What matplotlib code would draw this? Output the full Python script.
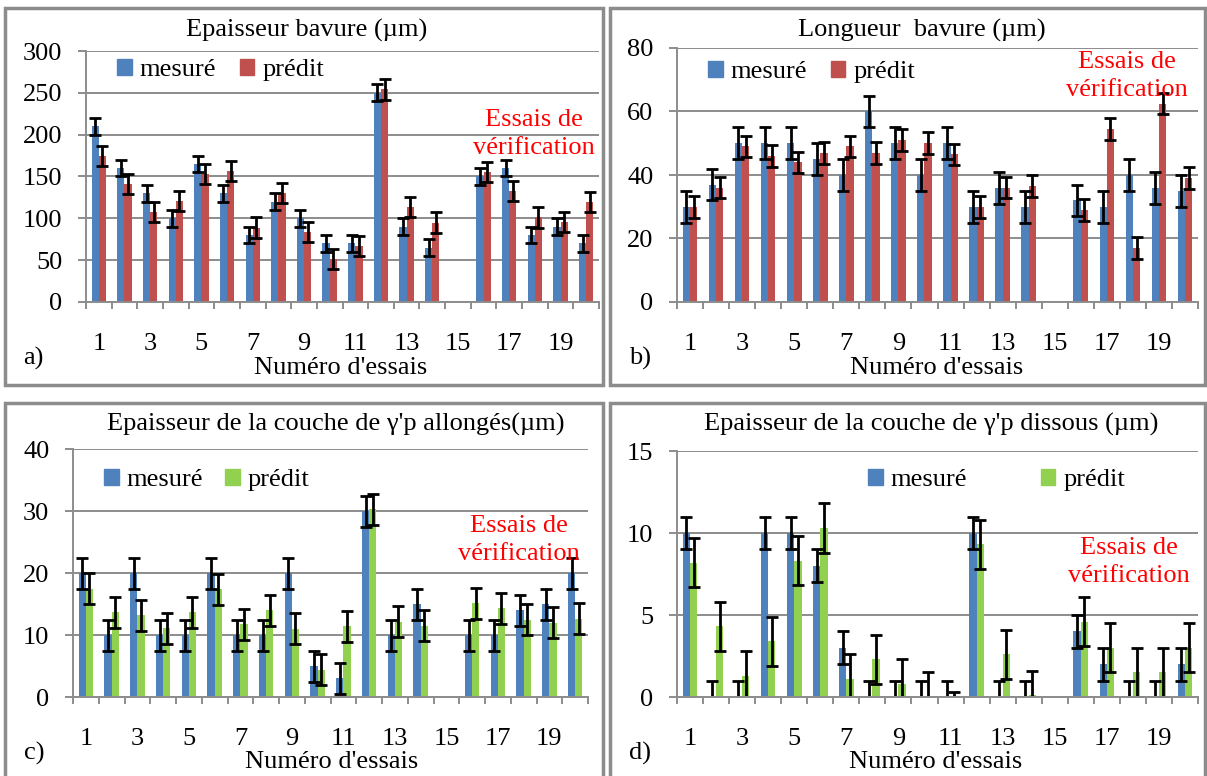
import numpy as np
import matplotlib
matplotlib.use("Agg")
import matplotlib.pyplot as plt
from matplotlib.patches import Patch, Rectangle

plt.rcParams['font.family'] = ['Liberation Serif', 'DejaVu Serif']

nan = np.nan
essais = np.arange(1, 21)
xtick_labels = [str(i) for i in range(1, 21, 2)]

# a) Epaisseur bavure
a_mesure = [210, 160, 130, 100, 165, 130, 80, 120, 100, 70, 70, 250, 90, 65, nan, 150, 160, 80, 90, 70]
a_predit = [175, 141, 108, 121, 153, 157, 89, 130, 84, 51, 67, 254, 113, 95, nan, 155, 133, 101, 96, 119]
a_err = (10, 12)

# b) Longueur bavure
b_mesure = [30, 37, 50, 50, 50, 45, 40, 60, 50, 40, 50, 30, 36, 30, nan, 32, 30, 40, 36, 35]
b_predit = [30, 36, 49, 46, 44, 47, 49, 47, 51, 50, 46.5, 30, 36, 36.5, nan, 29, 54.5, 17, 62.5, 39]
b_err = (5, 3.4)

# c) gamma'p allonges
c_mesure = [20, 10, 20, 10, 10, 20, 10, 10, 20, 5, 3, 30, 10, 15, nan, 10, 10, 14, 15, 20]
c_predit = [17.5, 13.7, 13.2, 11.1, 13.7, 17.4, 11.7, 14, 11, 4.4, 11.4, 30.3, 12.1, 11.5, nan, 15.1, 14.3, 12.5, 12, 12.6]
c_err = (2.5, 2.5)

# d) gamma'p dissous
d_mesure = [10, 0, 0, 10, 10, 8, 3, 0, 0, 0, 0, 10, 0, 0, nan, 4, 2, 0, 0, 2]
d_predit = [8.2, 4.3, 1.3, 3.4, 8.3, 10.3, 1.1, 2.3, 0.8, 0, -1.2, 9.3, 2.6, 0.1, nan, 4.6, 3.0, 1.5, 1.5, 3.0]
d_err = (1, 1.5)

W, H = 1207, 776
BLUE = "#4F81BD"
RED = "#C0504D"
GREEN = "#92D050"
GRAY = "#8C8C8C"
FS = 19

fig = plt.figure(figsize=(W / 100, H / 100), dpi=100)


def fig_xy(x, y):
    return x / W, 1 - y / H


def panel(box, axbox, mes, pred, err, col2, ymax, ystep, title, letter,
          title_xy, xlabel_xy, letter_xy, leg_xy, leg_space, note_xy):
    # border of the panel
    bx0, by0, bx1, by1 = box
    fig.add_artist(Rectangle(fig_xy(bx0, by1), (bx1 - bx0) / W, (by1 - by0) / H,
                             transform=fig.transFigure, fill=False,
                             edgecolor=GRAY, linewidth=2.5))
    x0, y0, x1, y1 = axbox
    ax = fig.add_axes([x0 / W, 1 - y1 / H, (x1 - x0) / W, (y1 - y0) / H])
    mes = np.array(mes, dtype=float)
    pred = np.array(pred, dtype=float)
    ok = ~np.isnan(mes)
    w = 0.28
    ax.bar(essais[ok] - w / 2, mes[ok], w, color=BLUE, zorder=2)
    ax.bar(essais[ok] + w / 2, pred[ok], w, color=col2, zorder=2)
    ax.errorbar(essais[ok] - w / 2, mes[ok], yerr=err[0], fmt='none',
                ecolor='black', elinewidth=2, capsize=4.3, capthick=2, zorder=3)
    ax.errorbar(essais[ok] + w / 2, pred[ok], yerr=err[1], fmt='none',
                ecolor='black', elinewidth=2, capsize=4.3, capthick=2, zorder=3)
    ax.set_xlim(0.5, 20.5)
    ax.set_ylim(0, ymax)
    ax.set_yticks(np.arange(0, ymax + 0.01, ystep))
    ax.yaxis.grid(True, color=GRAY, linewidth=1.4)
    ax.set_axisbelow(True)
    ax.set_xticks(np.arange(1, 21, 2))
    ax.set_xticklabels(xtick_labels)
    ax.set_xticks(np.arange(0.5, 21, 1), minor=True)
    ax.tick_params(axis='x', which='major', length=0, pad=22, labelsize=FS)
    ax.tick_params(axis='x', which='minor', length=5, width=1.4, color=GRAY)
    ax.tick_params(axis='y', length=6, width=1.4, color=GRAY, pad=11, labelsize=FS)
    for s in ('top', 'right'):
        ax.spines[s].set_visible(False)
    for s in ('left', 'bottom'):
        ax.spines[s].set_color(GRAY)
        ax.spines[s].set_linewidth(1.4)
    ax.spines['bottom'].set_zorder(4)

    handles = [Patch(color=BLUE), Patch(color=col2)]
    ax.legend(handles, ['mesuré', 'prédit'], ncol=2, frameon=False,
              loc='center left', bbox_to_anchor=fig_xy(*leg_xy),
              bbox_transform=fig.transFigure, fontsize=FS, borderpad=0,
              borderaxespad=0, handlelength=0.55, handleheight=0.55,
              handletextpad=0.3, columnspacing=leg_space)

    fig.text(*fig_xy(*title_xy), title, ha='center', va='center', fontsize=FS)
    fig.text(*fig_xy(*xlabel_xy), "Numéro d'essais", ha='center', va='center', fontsize=FS)
    fig.text(*fig_xy(*letter_xy), letter, ha='center', va='center', fontsize=FS)
    fig.text(*fig_xy(*note_xy), 'Essais de\nvérification', ha='center', va='center',
             fontsize=FS, color='red', linespacing=1.3)
    return ax


panel((5, 8, 603, 385), (86, 51, 599, 302), a_mesure, a_predit, a_err, RED, 300, 50,
      'Epaisseur bavure (µm)', 'a)', (307, 30), (341, 368), (33, 358),
      (117, 70), 0.9, (534, 134))
panel((610, 8, 1205, 385), (677, 48, 1198, 302), b_mesure, b_predit, b_err, RED, 80, 20,
      'Longueur  bavure (µm)', 'b)', (922, 30), (937, 368), (640, 358),
      (708, 72), 0.9, (1127, 76))
panel((5, 403, 603, 790), (73, 449, 588, 697), c_mesure, c_predit, c_err, GREEN, 40, 10,
      "Epaisseur de la couche de γ'p allongés(µm)", 'c)', (336, 424), (332, 762), (34, 753),
      (104, 480), 0.85, (519, 540))
panel((610, 403, 1205, 790), (677, 451, 1198, 697), d_mesure, d_predit, d_err, GREEN, 15, 5,
      "Epaisseur de la couche de γ'p dissous (µm)", 'd)', (931, 424), (936, 762), (640, 753),
      (868, 480), 2.8, (1129, 562))

fig.savefig("out.png", dpi=100)
